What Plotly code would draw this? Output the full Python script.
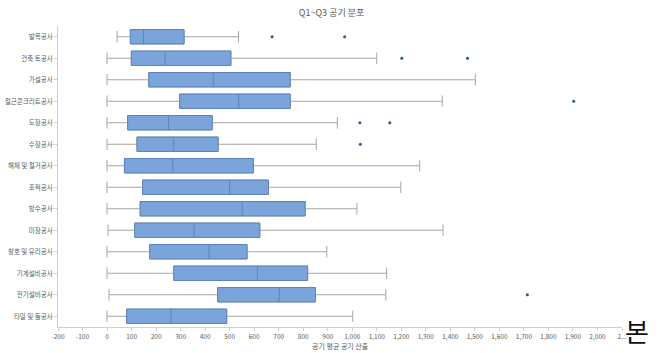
import plotly.graph_objects as go

# Work types, top to bottom
categories = ["발목공사", "건축 토공사", "가설공사", "철근콘크리트공사", "도장공사", "수장공사",
              "해체 및 철거공사", "조적공사", "방수공사", "미장공사", "창호 및 유리공사",
              "기계설비공사", "전기설비공사", "타일 및 돌공사"]

lower = [41, 0, 0, 0, 0, 0, 0, 0, 0, 4, 0, 0, 8, 0]
q1 = [95, 99, 170, 296, 84, 122, 71, 145, 135, 113, 174, 272, 451, 80]
median = [149, 237, 433, 537, 251, 272, 268, 500, 551, 355, 416, 613, 702, 261]
q3 = [314, 505, 747, 747, 429, 453, 597, 658, 808, 623, 571, 818, 850, 488]
upper = [536, 1100, 1502, 1367, 939, 853, 1275, 1198, 1019, 1370, 896, 1140, 1137, 1002]

outlier_cat = ["발목공사", "발목공사", "건축 토공사", "건축 토공사", "철근콘크리트공사",
               "도장공사", "도장공사", "수장공사", "전기설비공사"]
outlier_val = [673, 969, 1202, 1470, 1903, 1031, 1153, 1033, 1714]

tick_vals = list(range(-200, 2101, 100))
tick_text = [f"{v:,}" for v in tick_vals[:-1]] + ["2..."]

BOX_FILL = "#7ba5da"
BOX_EDGE = "#5b83bb"
WHISKER = "#a6a6a6"
TEXT = "#595959"

fig = go.Figure()

# Whiskers (gray), full range
fig.add_trace(go.Box(
    y=categories, q1=q1, median=median, q3=q3,
    lowerfence=lower, upperfence=upper,
    orientation="h", boxpoints=False,
    fillcolor=BOX_FILL, line=dict(color=WHISKER, width=1),
    width=0.67, whiskerwidth=0.8, showlegend=False, hoverinfo="skip",
))
# Box body with blue edge drawn over the whiskers
fig.add_trace(go.Box(
    y=categories, q1=q1, median=median, q3=q3,
    lowerfence=q1, upperfence=q3,
    orientation="h", boxpoints=False,
    fillcolor=BOX_FILL, line=dict(color=BOX_EDGE, width=1),
    width=0.67, whiskerwidth=0, showlegend=False,
))
# Outliers
fig.add_trace(go.Scatter(
    x=outlier_val, y=outlier_cat, mode="markers",
    marker=dict(color="#1f5a94", size=3), showlegend=False,
))

fig.update_layout(
    width=663, height=353,
    margin=dict(l=58, r=41, t=26, b=26, autoexpand=False),
    plot_bgcolor="white", paper_bgcolor="white",
    boxmode="overlay",
    font=dict(family="Noto Sans CJK KR", size=7, color=TEXT),
    title=dict(text="Q1~Q3 공기 분포", x=0.5, xanchor="center", y=0.965, yanchor="middle",
               font=dict(size=9, color=TEXT)),
    xaxis=dict(range=[-200, 2100], tickvals=tick_vals, ticktext=tick_text,
               showgrid=False, zeroline=False, showline=True, linecolor="#d0d0d0",
               ticks="outside", ticklen=3, tickcolor="#d0d0d0", automargin=False,
               tickfont=dict(size=6.5, color=TEXT)),
    yaxis=dict(type="category", categoryorder="array", categoryarray=categories,
               range=[len(categories) - 0.5, -0.5],
               showgrid=False, zeroline=False, showline=True, linecolor="#d0d0d0",
               ticks="outside", ticklen=3, tickcolor="#d0d0d0", automargin=False,
               tickfont=dict(size=6.5, color=TEXT)),
)

# X axis title
fig.add_annotation(text="공기 평균 공기 산출", xref="paper", yref="paper", x=0.5, y=-0.064,
                   xanchor="center", yanchor="middle", showarrow=False,
                   font=dict(size=7, color=TEXT))

fig.add_annotation(text="본", xref="paper", yref="paper", x=1.027, y=-0.01,
                   xanchor="center", yanchor="middle", showarrow=False,
                   font=dict(family="Noto Sans CJK KR", size=26, color="#111111"))

fig.write_html("out.html")
